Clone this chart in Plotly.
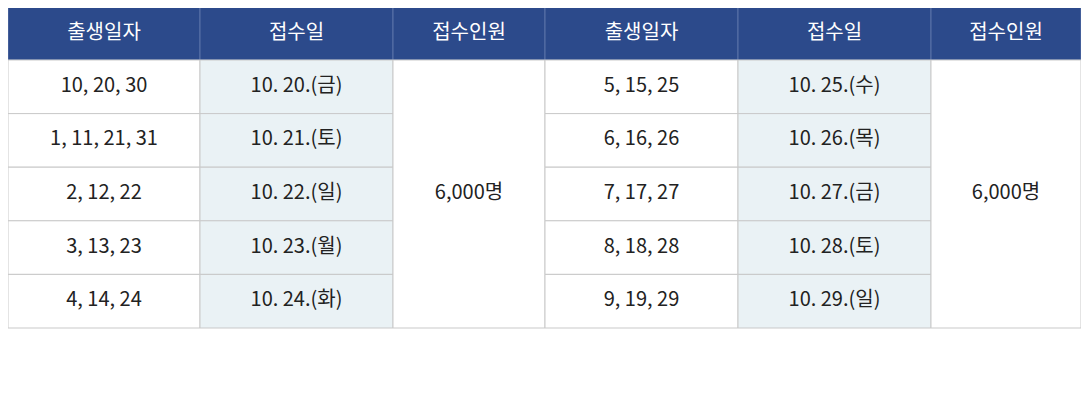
import plotly.graph_objects as go

headers = ["출생일자", "접수일", "접수인원", "출생일자", "접수일", "접수인원"]
birth_left = ["10, 20, 30", "1, 11, 21, 31", "2, 12, 22", "3, 13, 23", "4, 14, 24"]
date_left = ["10. 20.(금)", "10. 21.(토)", "10. 22.(일)", "10. 23.(월)", "10. 24.(화)"]
birth_right = ["5, 15, 25", "6, 16, 26", "7, 17, 27", "8, 18, 28", "9, 19, 29"]
date_right = ["10. 25.(수)", "10. 26.(목)", "10. 27.(금)", "10. 28.(토)", "10. 29.(일)"]
quota = ["6,000명", "6,000명"]
note_lines = ["※ 23.10.29.(일)까지 접수 결과 지원 인원을 충족하지 못한 경우 2023.10.30.(월) 10시부터 추가 접수 예정 "
              "(출생일자별 10부제 해제, 일정변경 시", "따로 공지)"]

W, H = 1089, 415
OFF = 8  # page body margin
col_edges = [8, 200, 393, 545, 738, 931, 1081]
head_top, head_bot = 7, 60
row_h = 53.6
FONT = "Noto Sans CJK KR"
border = "#c9c9c9"
navy = "#2c4a8b"
light = "#eaf2f5"

fig = go.Figure()
shapes = []
tx, ty, tt = [], [], []

for c, h in enumerate(headers):
    shapes.append(dict(type="rect", xref="x", yref="y", x0=col_edges[c], x1=col_edges[c+1],
                       y0=head_top, y1=head_bot, fillcolor=navy, layer="below",
                       line=dict(color="#5a72a8", width=1)))
fig.add_trace(go.Scatter(x=[(col_edges[c]+col_edges[c+1])/2 for c in range(6)],
                         y=[(head_top+head_bot)/2]*6, text=headers, mode="text",
                         textfont=dict(family=FONT, size=20, color="white"), hoverinfo="skip"))

cols = [birth_left, date_left, None, birth_right, date_right, None]
nrows = len(birth_left)
for c, vals in enumerate(cols):
    if vals is None:
        qi = 0 if c == 2 else 1
        shapes.append(dict(type="rect", xref="x", yref="y", x0=col_edges[c], x1=col_edges[c+1],
                           y0=head_bot, y1=head_bot+nrows*row_h, fillcolor="white", layer="below",
                           line=dict(color=border, width=1)))
        tx.append((col_edges[c]+col_edges[c+1])/2); ty.append(head_bot+nrows*row_h/2); tt.append(quota[qi])
        continue
    for r, v in enumerate(vals):
        shapes.append(dict(type="rect", xref="x", yref="y", x0=col_edges[c], x1=col_edges[c+1],
                           y0=head_bot+r*row_h, y1=head_bot+(r+1)*row_h,
                           fillcolor=light if c in (1, 4) else "white",
                           line=dict(color=border, width=1), layer="below"))
        tx.append((col_edges[c]+col_edges[c+1])/2); ty.append(head_bot+(r+0.5)*row_h); tt.append(v)

fig.add_trace(go.Scatter(x=tx, y=ty, text=tt, mode="text",
                         textfont=dict(family=FONT, size=20, color="#222222"), hoverinfo="skip"))

for i, line in enumerate(note_lines):
    fig.add_annotation(x=6, y=360 + 35*i, xref="x", yref="y", text=line, showarrow=False,
                       xanchor="left", yanchor="middle", align="left",
                       font=dict(family=FONT, size=16, color="#3b5ca6"))

fig.update_layout(width=W, height=H, margin=dict(l=0, r=0, t=0, b=0),
                  plot_bgcolor="white", paper_bgcolor="white", showlegend=False, shapes=shapes,
                  xaxis=dict(range=[OFF, W+OFF], visible=False, fixedrange=True),
                  yaxis=dict(range=[H+OFF, OFF], visible=False, fixedrange=True))
fig.write_html("out.html")
